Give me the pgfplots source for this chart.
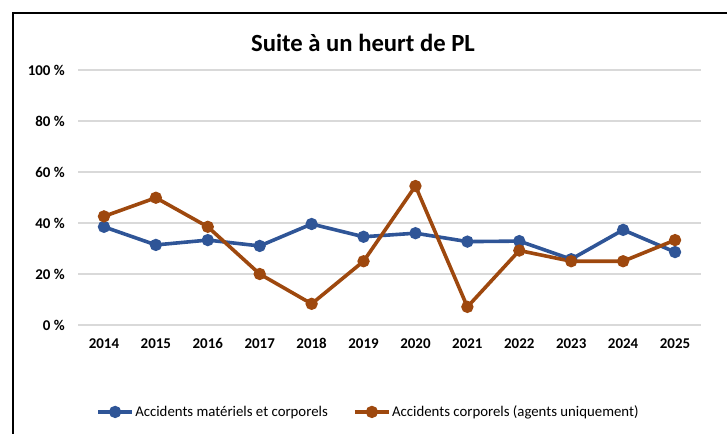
\documentclass[border=0pt]{standalone}
\usepackage{fontspec}
\setmainfont{Carlito}
\usepackage{pgfplots}
\pgfplotsset{compat=1.18}
\definecolor{serA}{RGB}{47,85,151}
\definecolor{serB}{RGB}{158,72,14}
\definecolor{gridc}{RGB}{217,217,217}
\pgfplotstableread{
idx blue orange
0 38.5 42.6
1 31.4 49.9
2 33.3 38.5
3 31.0 20.0
4 39.6 8.3
5 34.6 25.0
6 36.0 54.5
7 32.7 7.1
8 32.9 29.2
9 25.8 25.0
10 37.3 25.0
11 28.6 33.3
}\datatable
\begin{document}
\begin{tikzpicture}
\useasboundingbox (0,0) rectangle (545.25pt,325.5pt);
\draw[line width=1.9pt,black] (9.75pt,-20pt) rectangle (570pt,315.75pt);
\node[font=\fontsize{18.5}{22}\selectfont\bfseries,inner sep=0pt] at (272.25pt,293pt) {Suite à un heurt de PL};
\begin{axis}[
  at={(58.5pt,81.75pt)}, anchor=south west,
  scale only axis, width=467.25pt, height=191.25pt,
  xmin=-0.5, xmax=11.5, ymin=0, ymax=100,
  axis line style={draw=none},
  major tick length=0pt,
  xtick={0,...,11},
  xticklabels={2014,2015,2016,2017,2018,2019,2020,2021,2022,2023,2024,2025},
  ytick={0,20,40,60,80,100},
  yticklabels={0 \%,20 \%,40 \%,60 \%,80 \%,100 \%},
  ymajorgrids, grid style={gridc,line width=1.2pt},
  tick label style={font=\fontsize{11.2}{13}\selectfont\bfseries,inner sep=0pt},
  xticklabel style={anchor=north,yshift=-10pt},
  yticklabel style={anchor=east,xshift=-9.75pt},
  legend columns=2,
  legend style={draw=none,fill=none,inner sep=0pt,anchor=west,at={(0.029,-0.341)},
    font=\fontsize{11.1}{13}\selectfont,
    nodes={inner sep=1pt},
    /tikz/every even column/.append style={column sep=18pt}},
  legend image code/.code={\draw[mark repeat=2,mark phase=2,#1] plot coordinates {(0pt,0pt) (12.75pt,0pt) (25.5pt,0pt)};},
]
\addplot[serA,line width=2.7pt,mark=*,mark size=3.2pt,mark options={solid}] table[x=idx,y=blue]{\datatable};
\addlegendentry{Accidents matériels et corporels}
\addplot[serB,line width=2.7pt,mark=*,mark size=3.2pt,mark options={solid}] table[x=idx,y=orange]{\datatable};
\addlegendentry{Accidents corporels (agents uniquement)}
\end{axis}
\end{tikzpicture}
\end{document}
